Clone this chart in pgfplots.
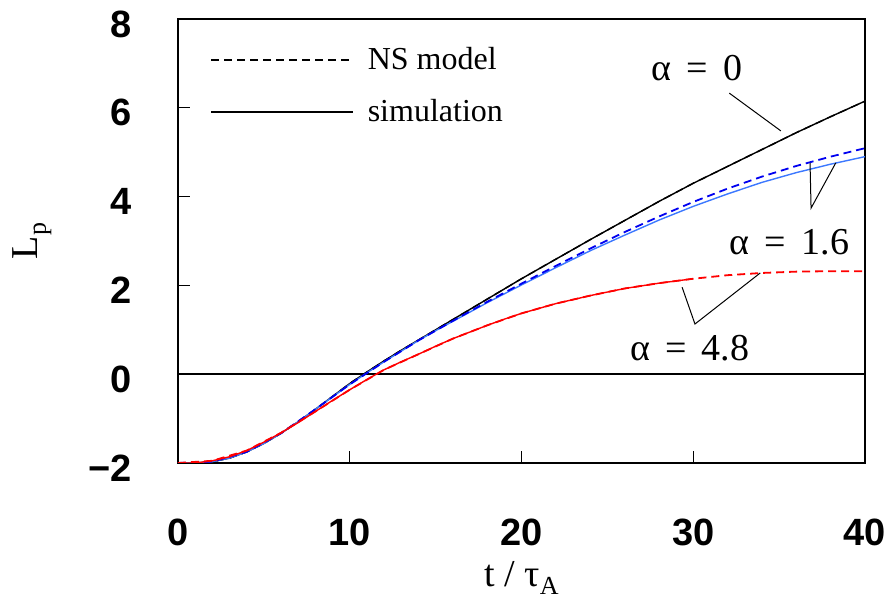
\documentclass[border=0pt]{standalone}
\usepackage{fontspec}
\setmainfont{Liberation Serif}
\setsansfont{Liberation Sans}
\usepackage{pgfplots}
\usepackage{pgfplotstable}
\pgfplotsset{compat=1.18}

\definecolor{simblue}{RGB}{60,120,255}
\definecolor{nsblue}{RGB}{0,0,240}
\definecolor{nsred}{RGB}{255,0,0}

% alpha = 0 (simulation and NS model coincide)
\pgfplotstableread{
t L
0 -2.00
1 -2.00
2 -1.97
3 -1.89
4 -1.75
5 -1.56
6 -1.33
7 -1.07
8 -0.79
9 -0.50
10 -0.21
11 0.05
12 0.30
13 0.54
14 0.77
15 1.00
16 1.23
17 1.46
18 1.69
19 1.92
20 2.15
22 2.59
24 3.03
26 3.46
28 3.89
30 4.30
32 4.68
34 5.06
36 5.44
38 5.80
40 6.15
}\azero

% alpha = 1.6, simulation
\pgfplotstableread{
t L
0 -2.00
1 -2.00
2 -1.97
3 -1.89
4 -1.75
5 -1.56
6 -1.33
7 -1.07
8 -0.79
9 -0.51
10 -0.23
11 0.03
12 0.28
13 0.52
14 0.76
15 0.98
16 1.19
17 1.40
18 1.61
19 1.81
20 2.01
22 2.40
24 2.78
26 3.13
28 3.47
30 3.78
32 4.06
34 4.32
36 4.54
38 4.73
40 4.90
}\aonesim

% alpha = 1.6, NS model
\pgfplotstableread{
t L
0 -2.00
2 -1.97
4 -1.75
6 -1.33
8 -0.79
10 -0.23
12 0.28
14 0.76
16 1.20
18 1.63
20 2.04
22 2.44
24 2.83
26 3.20
28 3.55
30 3.88
32 4.18
34 4.45
36 4.69
38 4.90
40 5.09
}\aonens

% alpha = 4.8, simulation
\pgfplotstableread{
t L
0 -2.00
1 -2.00
2 -1.95
3 -1.86
4 -1.72
5 -1.53
6 -1.32
7 -1.09
8 -0.84
9 -0.59
10 -0.35
11 -0.12
12 0.10
13 0.28
14 0.45
15 0.63
16 0.80
17 0.95
18 1.10
19 1.24
20 1.37
22 1.59
24 1.77
26 1.93
28 2.05
30 2.15
}\afoursim

% alpha = 4.8, NS model
\pgfplotstableread{
t L
0 -2.00
2 -1.95
4 -1.72
6 -1.32
8 -0.84
10 -0.35
12 0.10
14 0.45
16 0.80
18 1.10
20 1.37
22 1.59
24 1.77
26 1.93
28 2.05
30 2.15
32 2.23
34 2.28
36 2.31
38 2.32
40 2.32
}\afourns

\begin{document}
\begin{tikzpicture}
\begin{axis}[
  scale only axis,
  width=343.5pt, height=222pt,
  xmin=0, xmax=40, ymin=-2, ymax=8,
  xtick={0,10,20,30,40}, xticklabels={0,10,20,30,40},
  ytick={-2,0,2,4,6,8}, yticklabels={−2,0,2,4,6,8},
  extra y ticks={0}, extra y tick labels={},
  extra y tick style={grid=major, major grid style={black, line width=0.8pt}},
  tick align=inside, xtick pos=bottom, ytick pos=left,
  major tick length=6pt,
  every tick/.style={black, line width=0.6pt},
  axis line style={line width=1.4pt},
  ticklabel style={font=\fontsize{19}{20}\selectfont\sffamily\bfseries},
  xticklabel style={anchor=north, inner sep=0pt, yshift=-28pt},
  yticklabel style={anchor=east, inner sep=0pt, xshift=-23pt, yshift=-2.5pt},
  label style={font=\fontsize{19}{20}\selectfont},
  xlabel={t / τ\raisebox{-0.45ex}{\fontsize{13}{13}\selectfont A}},
  ylabel={L\raisebox{-0.45ex}{\fontsize{13}{13}\selectfont p}},
  xlabel style={at={(axis description cs:0.5,0)}, anchor=base, yshift=-62pt},
  ylabel style={at={(axis description cs:0,0.5)}, anchor=base, yshift=70pt},
  legend image code/.code={\draw[#1] (0pt,0pt) -- (71pt,0pt);},
  legend cell align=left,
  legend style={draw=none, fill=none, at={(axis description cs:0,1)},
    anchor=north west, xshift=16pt, yshift=-14pt,
    font=\fontsize{16}{17}\selectfont, column sep=7pt, row sep=13.5pt,
    inner sep=0pt, nodes={inner sep=0pt}},
]
\addlegendimage{black, line width=0.7pt, dash pattern=on 4pt off 2.5pt}
\addlegendentry{NS model}
\addlegendimage{black, line width=0.7pt}
\addlegendentry{simulation}

\addplot[black, line width=0.7pt, forget plot] table[x=t, y=L] {\azero};
\addplot[black, line width=0.7pt, dash pattern=on 4pt off 2.5pt, forget plot] table[x=t, y=L] {\azero};
\addplot[simblue, line width=0.7pt, forget plot] table[x=t, y=L] {\aonesim};
\addplot[nsblue, line width=0.9pt, dash pattern=on 4pt off 2.5pt, forget plot] table[x=t, y=L] {\aonens};
\addplot[nsred, line width=0.7pt, forget plot] table[x=t, y=L] {\afoursim};
\addplot[nsred, line width=0.9pt, dash pattern=on 4pt off 2.5pt, forget plot] table[x=t, y=L] {\afourns};

% labels and leader lines
\draw[black, line width=0.5pt] (axis cs:32.1,6.33) -- (axis cs:35.1,5.48);
\draw[black, line width=0.5pt] (axis cs:36.8,4.76) -- (axis cs:36.86,3.74) -- (axis cs:38.3,4.76);
\draw[black, line width=0.5pt] (axis cs:29.35,1.96) -- (axis cs:30.1,1.13) -- (axis cs:33.9,2.28);
\node[font=\fontsize{19}{20}\selectfont] at (axis cs:30.2,6.90) {α\hspace{0.15em} = \hspace{0.15em}0};
\node[font=\fontsize{19}{20}\selectfont] at (axis cs:35.6,2.98) {α\hspace{0.15em} = \hspace{0.15em}1.6};
\node[font=\fontsize{19}{20}\selectfont] at (axis cs:29.8,0.59) {α\hspace{0.15em} = \hspace{0.15em}4.8};
\end{axis}
\pgfresetboundingbox
\path[use as bounding box] ([shift={(-89pt,-70.5pt)}]current axis.south west)
  rectangle ([shift={(12pt,9.5pt)}]current axis.north east);
\end{tikzpicture}
\end{document}
